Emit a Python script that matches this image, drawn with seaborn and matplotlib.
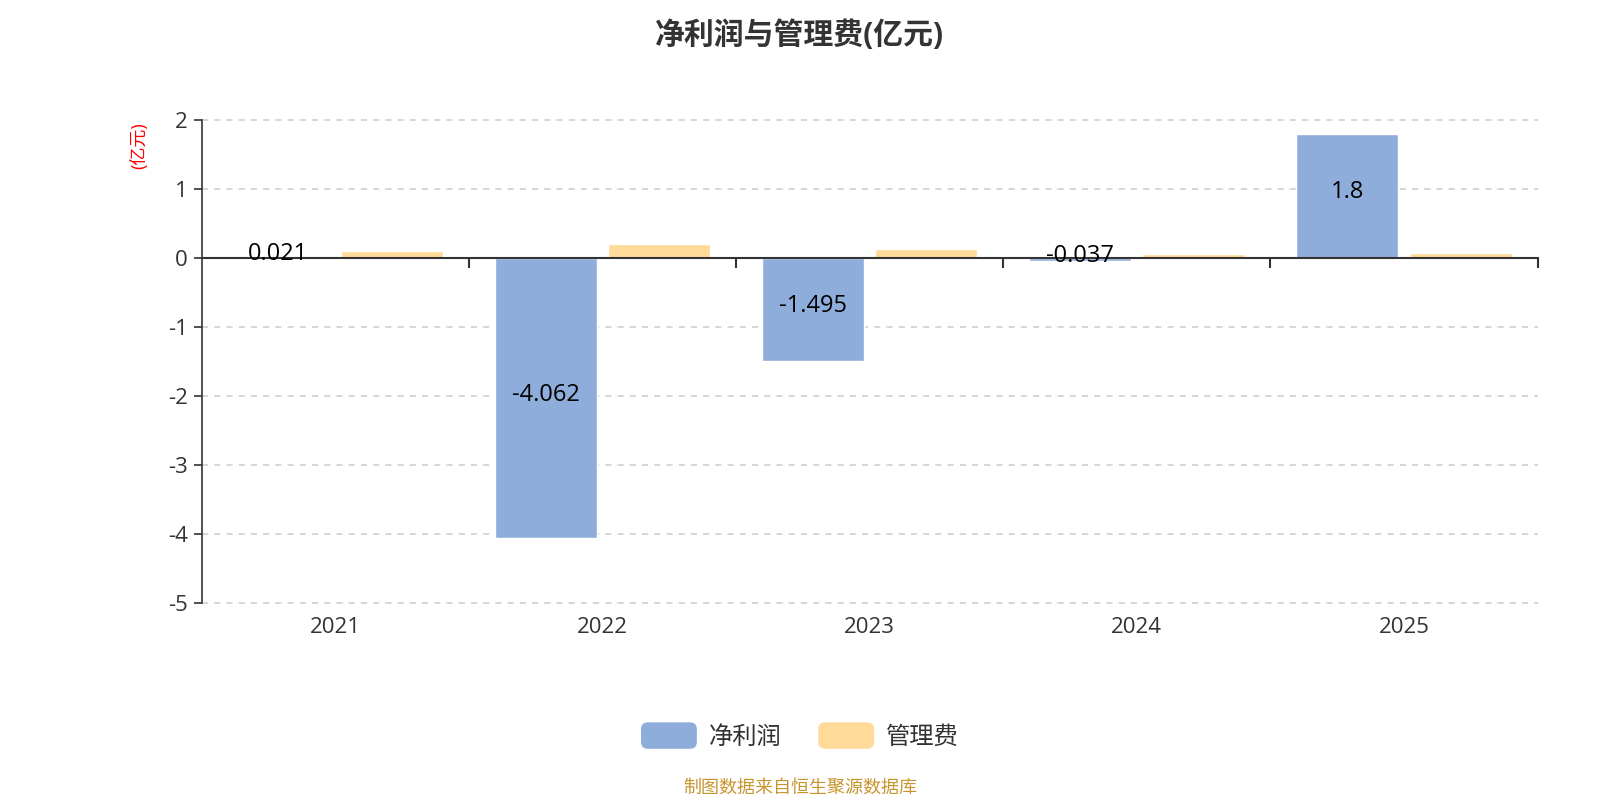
import matplotlib

matplotlib.use("Agg")
import matplotlib.pyplot as plt
import pandas as pd
import seaborn as sns
from matplotlib.legend_handler import HandlerPatch
from matplotlib.patches import FancyBboxPatch, Patch

years = ["2021", "2022", "2023", "2024", "2025"]
net_profit = [0.021, -4.062, -1.495, -0.037, 1.8]
admin_fee = [0.104, 0.209, 0.133, 0.066, 0.072]
series_names = ["净利润", "管理费"]
y_ticks = [-5, -4, -3, -2, -1, 0, 1, 2]

BLUE = "#8fadda"
YELLOW = "#ffda99"
DARK = "#333333"


class RoundHandler(HandlerPatch):
    def create_artists(self, legend, orig_handle, xdescent, ydescent,
                       width, height, fontsize, trans):
        p = FancyBboxPatch((-xdescent, -ydescent), width, height,
                           boxstyle="round,pad=0,rounding_size=5",
                           facecolor=orig_handle.get_facecolor(),
                           edgecolor="none", transform=trans)
        return [p]


sns.set_theme(style="white")
plt.rcParams["font.family"] = ["Open Sans", "Noto Sans CJK SC", "DejaVu Sans"]
plt.rcParams["axes.unicode_minus"] = False

df = pd.DataFrame({
    "year": years * 2,
    "value": net_profit + admin_fee,
    "series": [series_names[0]] * len(years) + [series_names[1]] * len(years),
})

fig = plt.figure(figsize=(16, 8), dpi=100)
ax = fig.add_axes([0.126, 0.246, 0.835, 0.604])

sns.barplot(data=df, x="year", y="value", hue="series", order=years,
            hue_order=series_names, palette=[BLUE, YELLOW], width=0.85,
            gap=0.1, saturation=1, legend=False, ax=ax)

labels = ax.bar_label(ax.containers[0], fmt="{:g}", label_type="center",
                      fontsize=17, color="black")
for lbl in labels:
    lbl.set_zorder(6)
    lbl.xyann = (0, 2.5)  # sit a touch above centre so the minus clears the axis

ymin, ymax = y_ticks[0], y_ticks[-1]
ax.set_ylim(ymin, ymax)
ax.set_xlim(-0.5, len(years) - 0.5)
ax.set_yticks(y_ticks)
ax.set_yticklabels([str(t) for t in y_ticks], fontsize=16, color=DARK)
for t in y_ticks:
    ax.axhline(t, color="#cccccc", lw=1.1, ls=(0, (4, 4)), zorder=0,
               clip_on=False)

ax.set_xlabel("")
ax.set_ylabel("")
ax.tick_params(axis="y", length=6, width=1.2, color=DARK, direction="out",
               left=True, pad=4)
for side in ["top", "right"]:
    ax.spines[side].set_visible(False)
ax.spines["left"].set_color(DARK)
ax.spines["left"].set_linewidth(1.2)

# category axis line drawn through zero, ticks between categories
ax.spines["bottom"].set_position(("data", 0))
ax.spines["bottom"].set_color(DARK)
ax.spines["bottom"].set_linewidth(1.5)
ax.spines["bottom"].set_zorder(3)
ax.set_xticks([i + 0.5 for i in range(len(years))])
ax.set_xticklabels([])
ax.tick_params(axis="x", bottom=True, length=7, width=1.5, color=DARK,
               direction="out")

# year labels along the bottom of the plot
sec = ax.secondary_xaxis("bottom")
sec.set_xticks(range(len(years)))
sec.set_xticklabels(years, fontsize=16, color=DARK)
sec.tick_params(length=0, pad=10)
sec.spines["bottom"].set_visible(False)

ax.text(-0.047, 0.946, "(亿元)", transform=ax.transAxes, rotation=90,
        color="red", fontsize=13, ha="center", va="center")

fig.suptitle("净利润与管理费(亿元)", x=0.5, y=0.975, fontsize=21.5,
             fontweight="bold", color=DARK)

handles = [Patch(facecolor=BLUE), Patch(facecolor=YELLOW)]
fig.legend(handles, series_names, loc="center", bbox_to_anchor=(0.5, 0.08),
           ncol=2, frameon=False, fontsize=17.5, handlelength=2.3,
           handleheight=1.3, handletextpad=0.5, columnspacing=1.5,
           labelcolor=DARK,
           handler_map={Patch: RoundHandler()})

fig.text(0.5, 0.015, "制图数据来自恒生聚源数据库", ha="center", va="center",
         fontsize=13, color="#c8952e")

fig.savefig("out.png", dpi=100)
